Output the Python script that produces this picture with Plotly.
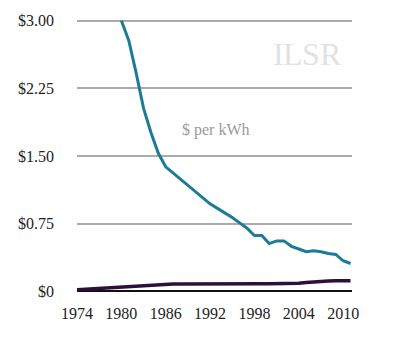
import plotly.graph_objects as go

years_teal = list(range(1980, 2012))
teal_vals = [3.00, 2.78, 2.42, 2.03, 1.76, 1.53, 1.38, 1.31, 1.24, 1.18, 1.11, 1.04,
             0.97, 0.92, 0.87, 0.82, 0.76, 0.70, 0.62, 0.62, 0.53, 0.56, 0.56, 0.50,
             0.47, 0.44, 0.45, 0.44, 0.42, 0.41, 0.34, 0.31]

years_purple = list(range(1974, 2012))
purple_vals = [0.020, 0.025, 0.030, 0.035, 0.040, 0.045, 0.050, 0.060, 0.065, 0.070,
               0.075, 0.078, 0.080, 0.082, 0.083, 0.084, 0.085, 0.086, 0.087, 0.088,
               0.088, 0.089, 0.090, 0.088, 0.086, 0.085, 0.085, 0.086, 0.085, 0.086,
               0.090, 0.100, 0.108, 0.112, 0.116, 0.118, 0.120, 0.120]

y_ticks = [0, 0.75, 1.5, 2.25, 3.0]
y_labels = ["$0", "$0.75", "$1.50", "$2.25", "$3.00"]
x_ticks = [1974, 1980, 1986, 1992, 1998, 2004, 2010]
x_labels = [str(v) for v in x_ticks]

serif = "Liberation Serif"

fig = go.Figure()
fig.add_trace(go.Scatter(x=years_purple, y=purple_vals, mode="lines",
                         line=dict(color="#2e0f3a", width=3.5), hoverinfo="skip"))
fig.add_trace(go.Scatter(x=years_teal, y=teal_vals, mode="lines",
                         line=dict(color="#1d7b98", width=3), hoverinfo="skip"))

fig.add_annotation(x=1992.8, y=1.79, text="$ per kWh", showarrow=False,
                   font=dict(family=serif, size=16, color="#9a9a9a"))

logo_letters = ["I", "L", "S", "R"]
logo_x = [0.731, 0.785, 0.851, 0.924]
for ch, lx in zip(logo_letters, logo_x):
    fig.add_annotation(xref="paper", yref="paper", x=lx, y=0.863, text=ch,
                       showarrow=False, xanchor="center", yanchor="middle",
                       font=dict(family=serif, size=32, color="#e2e2e2"))

fig.update_layout(
    width=404, height=343,
    margin=dict(l=77, r=52, t=15.5, b=46.5),
    paper_bgcolor="white", plot_bgcolor="white",
    showlegend=False,
    font=dict(family=serif, size=16, color="#222222"),
    xaxis=dict(range=[1974, 2011.2], tickvals=x_ticks, ticktext=x_labels,
               showgrid=False, zeroline=False, showline=False,
               tickfont=dict(family=serif, size=16, color="#222222"),
               ticks="", ticklabelstandoff=6, fixedrange=True),
    yaxis=dict(range=[-0.05, 3.05], tickvals=y_ticks, ticktext=y_labels,
               showgrid=True, gridcolor="#ababab", gridwidth=2,
               zeroline=True, zerolinecolor="#111111", zerolinewidth=2,
               tickfont=dict(family=serif, size=16, color="#222222"),
               showline=False, ticks="", ticklabelstandoff=22, fixedrange=True),
)

fig.write_html("out.html")
